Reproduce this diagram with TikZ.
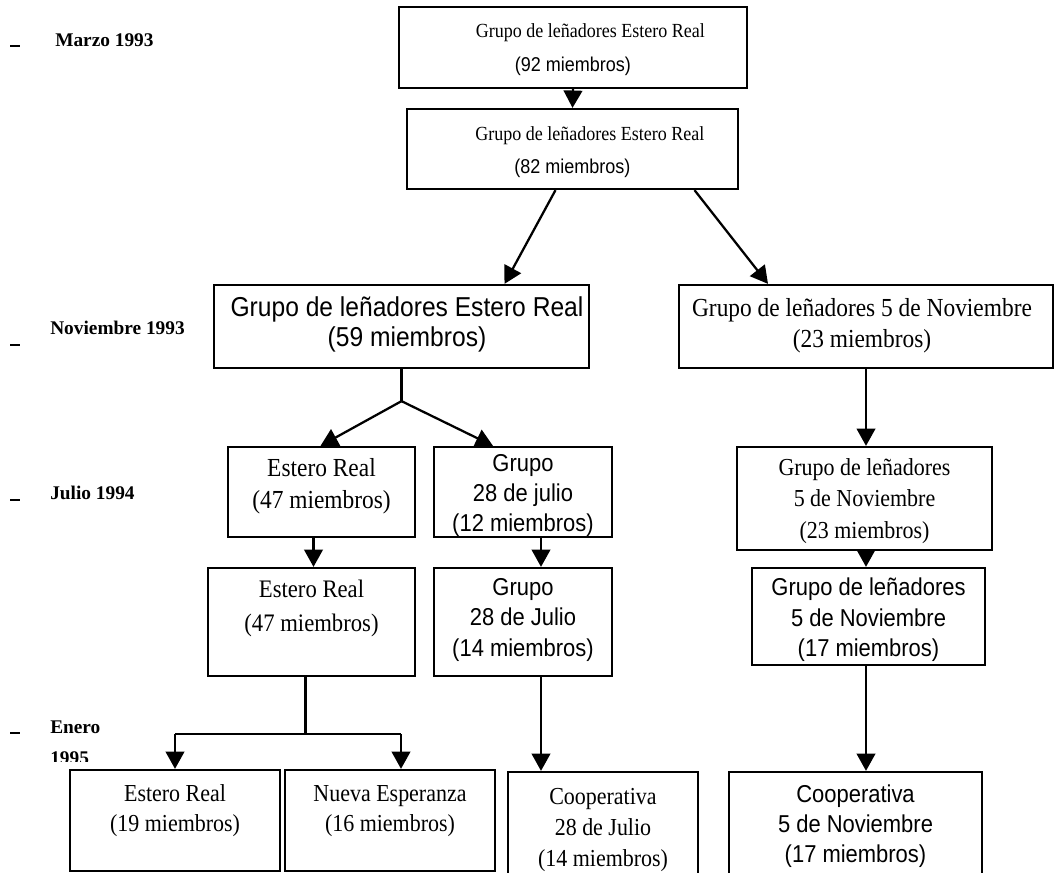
\documentclass[tikz,border=0pt]{standalone}
\usepackage{fontspec}
\setmainfont{Liberation Serif}
\setsansfont{Liberation Sans}
\newfontfamily\boxrm{Liberation Serif}[FakeStretch=0.9]
\newfontfamily\boxsf{Liberation Sans}[FakeStretch=0.9]
\usetikzlibrary{arrows.meta,calc}
\newcommand\fsz[2]{\fontsize{#1}{#2}\selectfont}
\begin{document}
\begin{tikzpicture}[x=0.75pt,y=-0.75pt,
  box/.style={draw,line width=1.7pt,inner sep=0pt},
  arr/.style={line width=1.7pt,-{Triangle[width=14pt,length=13pt]}},
  ln/.style={line width=1.7pt},
  txt/.style={align=center,inner sep=0pt},
  month/.style={anchor=west,inner sep=0pt,font=\bfseries\fsz{14.5}{22}},
  tick/.style={line width=1.5pt}
  ]
\useasboundingbox (0,0) rectangle (1055,873);
\clip (0,0) rectangle (1055,873);
% boxes
\node[box,minimum width=261pt,minimum height=60.75pt] (b1) at (573,47.5) {};
\node[box,minimum width=248.25pt,minimum height=60pt] (b2) at (572.5,149) {};
\node[box,minimum width=281.25pt,minimum height=62.25pt] (b3) at (401.5,326.5) {};
\node[box,minimum width=280.5pt,minimum height=62.25pt] (b4) at (866,326.5) {};
\node[box,minimum width=140.25pt,minimum height=67.5pt] (b5) at (321.5,492) {};
\node[box,minimum width=133.5pt,minimum height=67.5pt] (b6) at (523,492) {};
\node[box,minimum width=191.25pt,minimum height=77.25pt] (b7) at (864.5,498.5) {};
\node[box,minimum width=155.25pt,minimum height=81pt] (b8) at (311.5,622) {};
\node[box,minimum width=133.5pt,minimum height=81pt] (b9) at (523,622) {};
\node[box,minimum width=174.75pt,minimum height=72.75pt] (b10) at (868.5,616.5) {};
\node[box,minimum width=157.5pt,minimum height=75.75pt] (b11) at (175,820.5) {};
\node[box,minimum width=157.5pt,minimum height=75.75pt] (b12) at (390,820.5) {};
\node[box,minimum width=142.5pt,minimum height=90pt] (b13) at (603,832) {};
\node[box,minimum width=189.75pt,minimum height=90pt] (b14) at (855.5,832) {};
% texts
\node[txt,font=\boxrm\fsz{15}{25.5}] (t1) at (573,50) {\hspace*{26pt}Grupo de leñadores Estero Real\\\boxsf(92 miembros)};
\node[txt,font=\boxrm\fsz{15}{25}] (t2) at (572.5,152) {\hspace*{26pt}Grupo de leñadores Estero Real\\\boxsf(82 miembros)};
\node[txt,font=\boxsf\fsz{20.5}{22.5}] (t3) at (407,324) {Grupo de leñadores Estero Real\\(59 miembros)};
\node[txt,font=\boxrm\fsz{19.5}{23}] (t4) at (862,326) {Grupo de leñadores 5 de Noviembre\\(23 miembros)};
\node[txt,font=\boxrm\fsz{19.5}{24}] (t5) at (321.5,486) {Estero Real\\(47 miembros)};
\node[txt,font=\boxsf\fsz{18.3}{22.5}] (t6) at (523,496) {Grupo\\28 de julio\\(12 miembros)};
\node[txt,font=\boxrm\fsz{18.3}{23.5}] (t7) at (864.5,501) {Grupo de leñadores\\5 de Noviembre\\(23 miembros)};
\node[txt,font=\boxrm\fsz{18.9}{25.5}] (t8) at (311.5,608) {Estero Real\\(47 miembros)};
\node[txt,font=\boxsf\fsz{18.3}{23}] (t9) at (523,620) {Grupo\\28 de Julio\\(14 miembros)};
\node[txt,font=\boxsf\fsz{18.3}{23}] (t10) at (868.5,620) {Grupo de leñadores\\5 de Noviembre\\(17 miembros)};
\node[txt,font=\boxrm\fsz{18.3}{22.5}] (t11) at (175,811) {Estero Real\\(19 miembros)};
\node[txt,font=\boxrm\fsz{18.3}{22.5}] (t12) at (390,811) {Nueva Esperanza\\(16 miembros)};
\node[txt,font=\boxrm\fsz{18.3}{23}] (t13) at (603,830) {Cooperativa\\28 de Julio\\(14 miembros)};
\node[txt,font=\boxsf\fsz{18.3}{22.5}] (t14) at (855.5,826) {Cooperativa\\5 de Noviembre\\(17 miembros)};
% month labels
\node[month] (m1) at (55,40) {Marzo 1993};
\node[month] (m2) at (50,328) {Noviembre 1993};
\node[month] (m3) at (50,493) {Julio 1994};
\node[month] (m4) at (50,727) {Enero};
\begin{scope}
\clip (0,700) rectangle (200,761);
\node[month] (m5) at (50,758) {1995};
\end{scope}
\draw[tick] (10,46) -- (20,46);
\draw[tick] (10,345) -- (20,345);
\draw[tick] (10,500) -- (20,500);
\draw[tick] (10,733) -- (20,733);
% connectors
\draw[arr] (b1.south) -- (b2.north);
\draw[arr] ($(b2.south)+(-17,0)$) -- ($(b3.north)+(103,0)$);
\draw[arr] ($(b2.south)+(122,0)$) -- ($(b4.north)+(-98,0)$);
\coordinate (j1) at ($(b3.south)+(0,32)$);
\draw[ln] (b3.south) -- (j1);
\draw[arr] (j1) -- ($(b5.north)+(-1,0)$);
\draw[arr] (j1) -- ($(b6.north)+(-30,0)$);
\draw[arr] (b4.south) -- (b4.south |- b7.north);
\coordinate (c5) at ($(b5.south)+(-8,0)$);
\draw[arr] (c5) -- (c5 |- b8.north);
\coordinate (c6) at ($(b6.south)+(18,0)$);
\draw[arr] (c6) -- (c6 |- b9.north);
\coordinate (c7) at (b7.south -| b4.south);
\draw[arr] (c7) -- (c7 |- b10.north);
\coordinate (c8) at ($(b8.south)+(-6,0)$);
\coordinate (j2) at ($(c8)+(0,57)$);
\coordinate (j2l) at (j2 -| b11.north);
\coordinate (j2r) at ($(j2 -| b12.north)+(11,0)$);
\draw[ln] (c8) -- (j2);
\draw[ln] (j2l) -- (j2r);
\draw[arr] (j2l) -- (j2l |- b11.north);
\draw[arr] (j2r) -- (j2r |- b12.north);
\coordinate (c9) at ($(b9.south)+(18,0)$);
\draw[arr] (c9) -- (c9 |- b13.north);
\coordinate (c10) at (b10.south -| b4.south);
\draw[arr] (c10) -- (c10 |- b14.north);
\end{tikzpicture}
\end{document}
